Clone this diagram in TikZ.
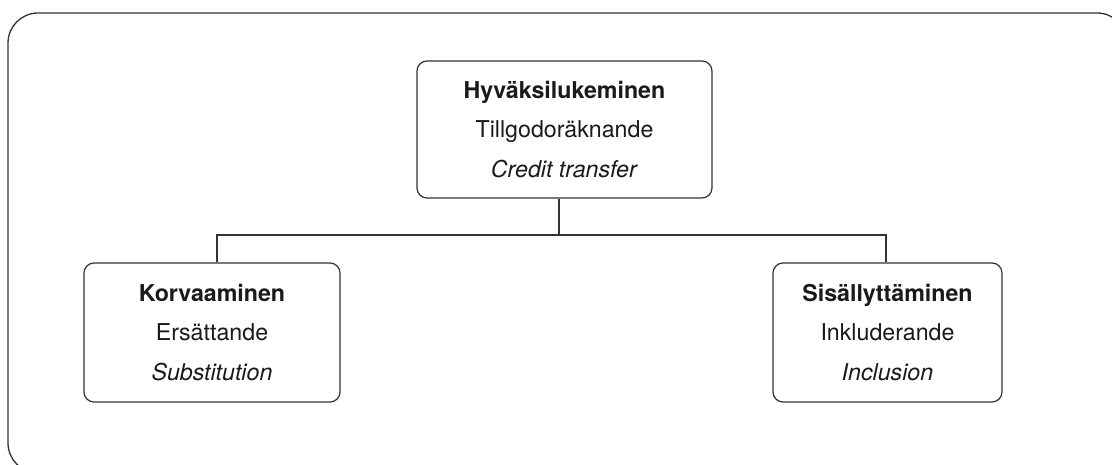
\documentclass[tikz,border=0pt]{standalone}
\usepackage{fontspec}
\setmainfont{TeX Gyre Heros}
\definecolor{linec}{HTML}{333333}
\definecolor{textc}{HTML}{1A1A1A}
\tikzset{
  box/.style={draw=linec, line width=1.2pt, rounded corners=10pt, align=center,
    inner sep=0pt, text=textc, font=\fontsize{23.2}{39.5}\selectfont},
  conn/.style={draw=linec, line width=1.2pt},
}
\begin{document}
\begin{tikzpicture}[x=1pt,y=-1pt]
\useasboundingbox[clip] (0,0) rectangle (1112,465);
\fill[white] (0,0) rectangle (1112,465);
\draw[linec, line width=1.3pt, rounded corners=30pt] (8,13) rectangle (1127,473);
\node[box, minimum width=295pt, minimum height=137pt] (top) at (564.5,129.5)
  {\textbf{Hyväksilukeminen}\\Tillgodoräknande\\\textit{Credit transfer}};
\node[box, minimum width=256pt, minimum height=139pt] (left) at (212,332.5)
  {\textbf{Korvaaminen}\\Ersättande\\\textit{Substitution}};
\node[box, minimum width=229pt, minimum height=139pt] (right) at (887.5,332.5)
  {\textbf{Sisällyttäminen}\\Inkluderande\\\textit{Inclusion}};
\coordinate (j) at (559,235);
\coordinate (jl) at (217,235);
\coordinate (jr) at (886,235);
\draw[conn] (top.south -| j) -- (j);
\draw[conn] (left.north -| jl) -- (jl) -- (jr) -- (right.north -| jr);
\end{tikzpicture}
\end{document}
